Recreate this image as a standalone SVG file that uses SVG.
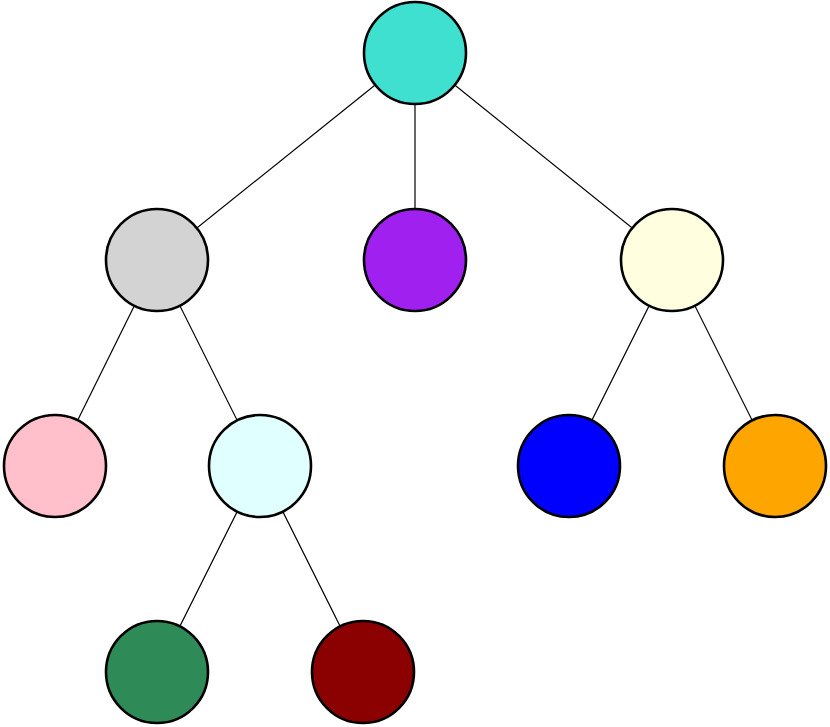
<svg xmlns="http://www.w3.org/2000/svg" width="830" height="727" viewBox="0 0 830 727">
<style>
.edge{stroke:#000;stroke-width:1.2;fill:none}
.node{stroke:#000;stroke-width:2.6}
</style>
<rect width="830" height="727" fill="#fff"/>
<g id="edges">
<line class="edge" x1="415" y1="53" x2="157" y2="260"/>
<line class="edge" x1="415" y1="53" x2="415" y2="260"/>
<line class="edge" x1="415" y1="53" x2="672" y2="260"/>
<line class="edge" x1="157" y1="260" x2="55" y2="466"/>
<line class="edge" x1="157" y1="260" x2="260" y2="466"/>
<line class="edge" x1="672" y1="260" x2="569" y2="466"/>
<line class="edge" x1="672" y1="260" x2="775" y2="466"/>
<line class="edge" x1="260" y1="466" x2="157" y2="672"/>
<line class="edge" x1="260" y1="466" x2="363" y2="672"/>
</g>
<g id="n0"><circle class="node" cx="415" cy="53" r="51" fill="#40E0D0"/></g>
<g id="n1"><circle class="node" cx="157" cy="260" r="51" fill="#D3D3D3"/></g>
<g id="n2"><circle class="node" cx="415" cy="260" r="51" fill="#A020F0"/></g>
<g id="n3"><circle class="node" cx="672" cy="260" r="51" fill="#FFFFE0"/></g>
<g id="n4"><circle class="node" cx="55" cy="466" r="51" fill="#FFC0CB"/></g>
<g id="n5"><circle class="node" cx="260" cy="466" r="51" fill="#E0FFFF"/></g>
<g id="n6"><circle class="node" cx="569" cy="466" r="51" fill="#0000FF"/></g>
<g id="n7"><circle class="node" cx="775" cy="466" r="51" fill="#FFA500"/></g>
<g id="n8"><circle class="node" cx="157" cy="672" r="51" fill="#2E8B57"/></g>
<g id="n9"><circle class="node" cx="363" cy="672" r="51" fill="#8B0000"/></g>
</svg>
